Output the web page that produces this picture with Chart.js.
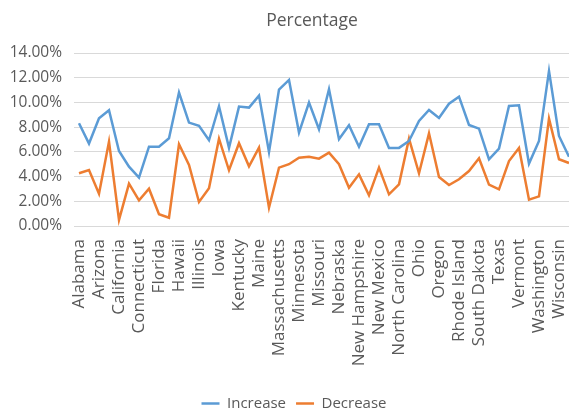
<!DOCTYPE html>
<html>
<head>
<meta charset="utf-8">
<script src="https://cdn.jsdelivr.net/npm/chart.js@4/dist/chart.umd.min.js"></script>
<style>
  html, body { margin: 0; padding: 0; background: #fff; overflow: hidden; }
  #wrap { width: 606px; height: 415px; }
</style>
</head>
<body>
<div id="wrap"><canvas id="chart" width="606" height="415"></canvas></div>
<script>
// states in alphabetical order, every other one gets a tick label
const states = [
  "Alabama", "Alaska", "Arizona", "Arkansas", "California", "Colorado", "Connecticut", "Delaware",
  "Florida", "Georgia", "Hawaii", "Idaho", "Illinois", "Indiana", "Iowa", "Kansas", "Kentucky",
  "Louisiana", "Maine", "Maryland", "Massachusetts", "Michigan", "Minnesota", "Mississippi",
  "Missouri", "Montana", "Nebraska", "Nevada", "New Hampshire", "New Jersey", "New Mexico",
  "New York", "North Carolina", "North Dakota", "Ohio", "Oklahoma", "Oregon", "Pennsylvania",
  "Rhode Island", "South Carolina", "South Dakota", "Tennessee", "Texas", "Utah", "Vermont",
  "Virginia", "Washington", "West Virginia", "Wisconsin", "Wyoming"
];

// percent values
const increase = [
  8.32, 6.67, 8.72, 9.37, 6.07, 4.80, 3.91, 6.42, 6.42, 7.10,
  10.80, 8.37, 8.10, 6.94, 9.69, 6.32, 9.66, 9.58, 10.55, 5.99,
  11.04, 11.82, 7.56, 9.99, 7.83, 11.07, 7.02, 8.15, 6.42, 8.23,
  8.23, 6.32, 6.32, 6.88, 8.50, 9.39, 8.74, 9.90, 10.47, 8.18,
  7.88, 5.40, 6.26, 9.72, 9.77, 5.05, 6.88, 12.55, 7.29, 5.60
];
const decrease = [
  4.27, 4.53, 2.62, 6.83, 0.49, 3.43, 2.08, 3.02, 0.95, 0.67,
  6.61, 4.94, 1.94, 3.05, 7.07, 4.51, 6.70, 4.83, 6.34, 1.48,
  4.72, 5.00, 5.53, 5.61, 5.45, 5.94, 5.00, 3.10, 4.18, 2.48,
  4.72, 2.56, 3.37, 7.07, 4.27, 7.50, 3.97, 3.32, 3.78, 4.45,
  5.48, 3.35, 2.97, 5.26, 6.32, 2.13, 2.40, 8.69, 5.40, 5.10
];
const yTicks = [0, 2, 4, 6, 8, 10, 12, 14];

const textColor = "#595959";
const gridColor = "#d9d9d9";
const font = "'Open Sans', sans-serif";

Chart.defaults.font.family = font;
Chart.defaults.color = textColor;

// the original chart is cropped on the right, so title and legend sit
// off the centre of the visible plot; nudge their boxes after layout
const nudgeBoxes = {
  id: "nudgeBoxes",
  afterLayout(chart) {
    const t = chart.titleBlock;
    if (t) { t.left += 25; t.right += 25; }
    const l = chart.legend;
    if (l) { l.left += 7; l.right += 7; l.top += 6; l.bottom += 6; }
  },
};

new Chart(document.getElementById("chart").getContext("2d"), {
  type: "line",
  data: {
    labels: states,
    datasets: [
      { label: "Increase", data: increase, borderColor: "#5B9BD5", backgroundColor: "#5B9BD5" },
      { label: "Decrease", data: decrease, borderColor: "#ED7D31", backgroundColor: "#ED7D31" },
    ].map(d => ({ ...d, borderWidth: 2.5, pointRadius: 0, tension: 0, fill: false })),
  },
  options: {
    responsive: false,
    animation: false,
    layout: { padding: { left: 0, right: 32, top: 0, bottom: 0 } },
    plugins: {
      title: {
        display: true, text: "Percentage", color: textColor,
        font: { size: 17.5, weight: "normal" },
        padding: { top: 11, bottom: 21 },
      },
      legend: {
        position: "bottom",
        labels: {
          usePointStyle: true, pointStyle: "line", pointStyleWidth: 18,
          font: { size: 15 }, color: textColor, padding: 10,
        },
      },
      tooltip: { enabled: false },
    },
    scales: {
      x: {
        offset: true,
        grid: { display: false, drawTicks: false },
        border: { display: false },
        ticks: {
          autoSkip: false, maxRotation: 90, minRotation: 90, padding: 13,
          font: { size: 17 }, color: textColor,
          callback: (v, i) => (i % 2 === 0 ? states[i] : ""),
        },
        afterFit: s => { s.height = 154; },
      },
      y: {
        min: 0, max: 14,
        afterBuildTicks: s => { s.ticks = yTicks.map(v => ({ value: v })); },
        grid: { color: gridColor, lineWidth: 1, drawTicks: false },
        border: { display: false },
        ticks: {
          padding: 12, font: { size: 15.5 }, color: textColor,
          callback: v => v.toFixed(2) + "%",
        },
        afterFit: s => { s.width = 74; },
      },
    },
  },
  plugins: [nudgeBoxes],
});
</script>
</body>
</html>
